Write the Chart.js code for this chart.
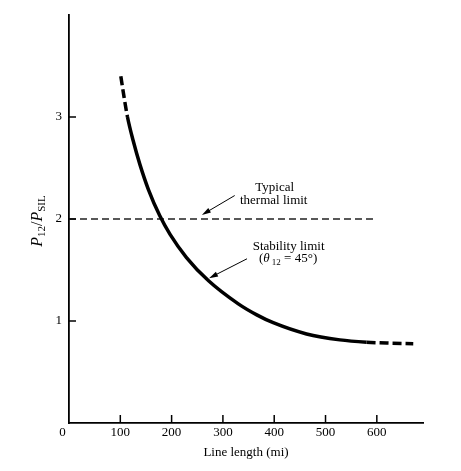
<!DOCTYPE html>
<html lang="en">
<head>
<meta charset="UTF-8">
<title>P12/PSIL vs line length</title>
<script src="https://cdn.jsdelivr.net/npm/chart.js"></script>
<style>
    body { margin: 0; background: #fff; }
    #box { width: 461px; height: 471px; position: relative; }
</style>
</head>
<body>
<div id="box"><canvas id="myChart"></canvas></div>

<script>
// values
const lengthMi = [101, 107.5, 114, 125, 138, 155, 177, 197, 229, 272, 330, 366, 398, 463, 528, 580, 625, 671];
const stabilityRatio = [3.40, 3.19, 3.00, 2.769, 2.538, 2.286, 2.031, 1.849, 1.622, 1.394, 1.168, 1.06, 0.983, 0.873, 0.815, 0.792, 0.783, 0.778];
const thermalMi = [0, 593];
const thermalRatio = [2, 2];
const xTickValues = [100, 200, 300, 400, 500, 600];
const yTickValues = [1, 2, 3];

// dashed (extrapolated) ends of the stability curve
const solidFrom = 114;
const solidTo = 580;

const serif = '"Liberation Serif", "DejaVu Serif", serif';

const toPts = (xs, ys) => xs.map((x, i) => ({ x: x, y: ys[i] }));

// draw a run of text pieces centred at (cx, y)
function drawRich(ctx, parts, cx, y) {
    let w = 0;
    parts.forEach(p => { ctx.font = p.font; w += ctx.measureText(p.t).width; });
    let x = cx - w / 2;
    parts.forEach(p => {
        ctx.font = p.font;
        ctx.fillText(p.t, x, y + (p.dy || 0));
        x += ctx.measureText(p.t).width;
    });
}

function arrow(ctx, x1, y1, x2, y2) {
    const a = Math.atan2(y2 - y1, x2 - x1);
    ctx.beginPath();
    ctx.moveTo(x1, y1);
    ctx.lineTo(x2 - 6 * Math.cos(a), y2 - 6 * Math.sin(a));
    ctx.stroke();
    ctx.beginPath();
    ctx.moveTo(x2, y2);
    ctx.lineTo(x2 - 9 * Math.cos(a) + 2.6 * Math.sin(a), y2 - 9 * Math.sin(a) - 2.6 * Math.cos(a));
    ctx.lineTo(x2 - 9 * Math.cos(a) - 2.6 * Math.sin(a), y2 - 9 * Math.sin(a) + 2.6 * Math.cos(a));
    ctx.closePath();
    ctx.fill();
}

// inward tick marks, labels with arrows, y axis title with subscripts
const extras = {
    id: 'extras',
    afterDraw(chart) {
        const ctx = chart.ctx;
        const xs = chart.scales.x, ys = chart.scales.y;
        const area = chart.chartArea;
        const px = v => xs.getPixelForValue(v);
        const py = v => ys.getPixelForValue(v);
        ctx.save();
        ctx.strokeStyle = '#000';
        ctx.fillStyle = '#000';
        ctx.lineWidth = 1.5;
        xTickValues.forEach(v => {
            ctx.beginPath();
            ctx.moveTo(px(v), area.bottom);
            ctx.lineTo(px(v), area.bottom - 8);
            ctx.stroke();
        });
        yTickValues.forEach(v => {
            ctx.beginPath();
            ctx.moveTo(area.left, py(v));
            ctx.lineTo(area.left + 7, py(v));
            ctx.stroke();
        });

        const big = '13px ' + serif;
        const ital = 'italic 13px ' + serif;
        const small = '9px ' + serif;
        ctx.textBaseline = 'alphabetic';
        drawRich(ctx, [{ t: 'Typical', font: big }], px(401), py(2.27));
        drawRich(ctx, [{ t: 'thermal limit', font: big }], px(399), py(2.147));
        drawRich(ctx, [{ t: 'Stability limit', font: big }], px(428), py(1.696));
        drawRich(ctx, [
            { t: '(', font: big },
            { t: '\u03B8', font: ital },
            { t: ' 12', font: small, dy: 3 },
            { t: ' = 45\u00B0)', font: big }
        ], px(427), py(1.578));

        ctx.lineWidth = 1;
        arrow(ctx, px(323), py(2.23), px(259), py(2.04));
        arrow(ctx, px(347), py(1.61), px(273), py(1.42));

        // y axis title
        ctx.translate(42, (area.top + area.bottom) / 2 + 2);
        ctx.rotate(-Math.PI / 2);
        drawRich(ctx, [
            { t: 'P', font: 'italic 16px ' + serif },
            { t: '12', font: '11px ' + serif, dy: 3 },
            { t: '/', font: '16px ' + serif },
            { t: 'P', font: 'italic 16px ' + serif },
            { t: 'SIL', font: '11px ' + serif, dy: 3 }
        ], 0, 0);
        ctx.restore();
    }
};

const ctx = document.getElementById('myChart').getContext('2d');
new Chart(ctx, {
    type: 'line',
    data: {
        datasets: [{
            label: 'Stability limit',
            data: toPts(lengthMi, stabilityRatio),
            borderColor: '#000',
            borderWidth: 3.5,
            pointRadius: 0,
            cubicInterpolationMode: 'monotone',
            segment: {
                borderDash: c => (c.p0.parsed.x < solidFrom || c.p0.parsed.x >= solidTo) ? [9, 4] : undefined
            }
        }, {
            label: 'Typical thermal limit',
            data: toPts(thermalMi, thermalRatio),
            borderColor: '#222',
            borderWidth: 1.3,
            borderDash: [7, 4],
            pointRadius: 0
        }]
    },
    options: {
        responsive: true,
        maintainAspectRatio: false,
        animation: false,
        layout: { padding: { top: 15, right: 38, left: 0, bottom: 0 } },
        plugins: {
            legend: { display: false },
            tooltip: { enabled: false }
        },
        scales: {
            x: {
                type: 'linear',
                min: 0,
                max: 690,
                afterBuildTicks: s => { s.ticks = [0].concat(xTickValues).map(v => ({ value: v })); },
                afterFit: s => { s.height = 48; },
                grid: { display: false, drawTicks: false },
                border: { display: true, color: '#000', width: 1.8 },
                ticks: {
                    autoSkip: false,
                    maxRotation: 0,
                    padding: 2,
                    color: '#000',
                    font: { family: serif, size: 13 },
                    callback: v => v === 0 ? '0\u2002\u2002' : String(v)
                },
                title: {
                    display: true,
                    text: 'Line length (mi)',
                    color: '#000',
                    font: { family: serif, size: 13 },
                    padding: { top: 0, bottom: 11 }
                }
            },
            y: {
                min: 0,
                max: 4,
                afterFit: s => { s.width = 69; },
                grid: { display: false, drawTicks: false },
                border: { display: true, color: '#000', width: 1.8 },
                ticks: {
                    stepSize: 1,
                    padding: 7,
                    color: '#000',
                    font: { family: serif, size: 13 },
                    callback: v => (v >= 1 && v <= 3) ? String(v) : ''
                }
            }
        }
    },
    plugins: [extras]
});
</script>
</body>
</html>
